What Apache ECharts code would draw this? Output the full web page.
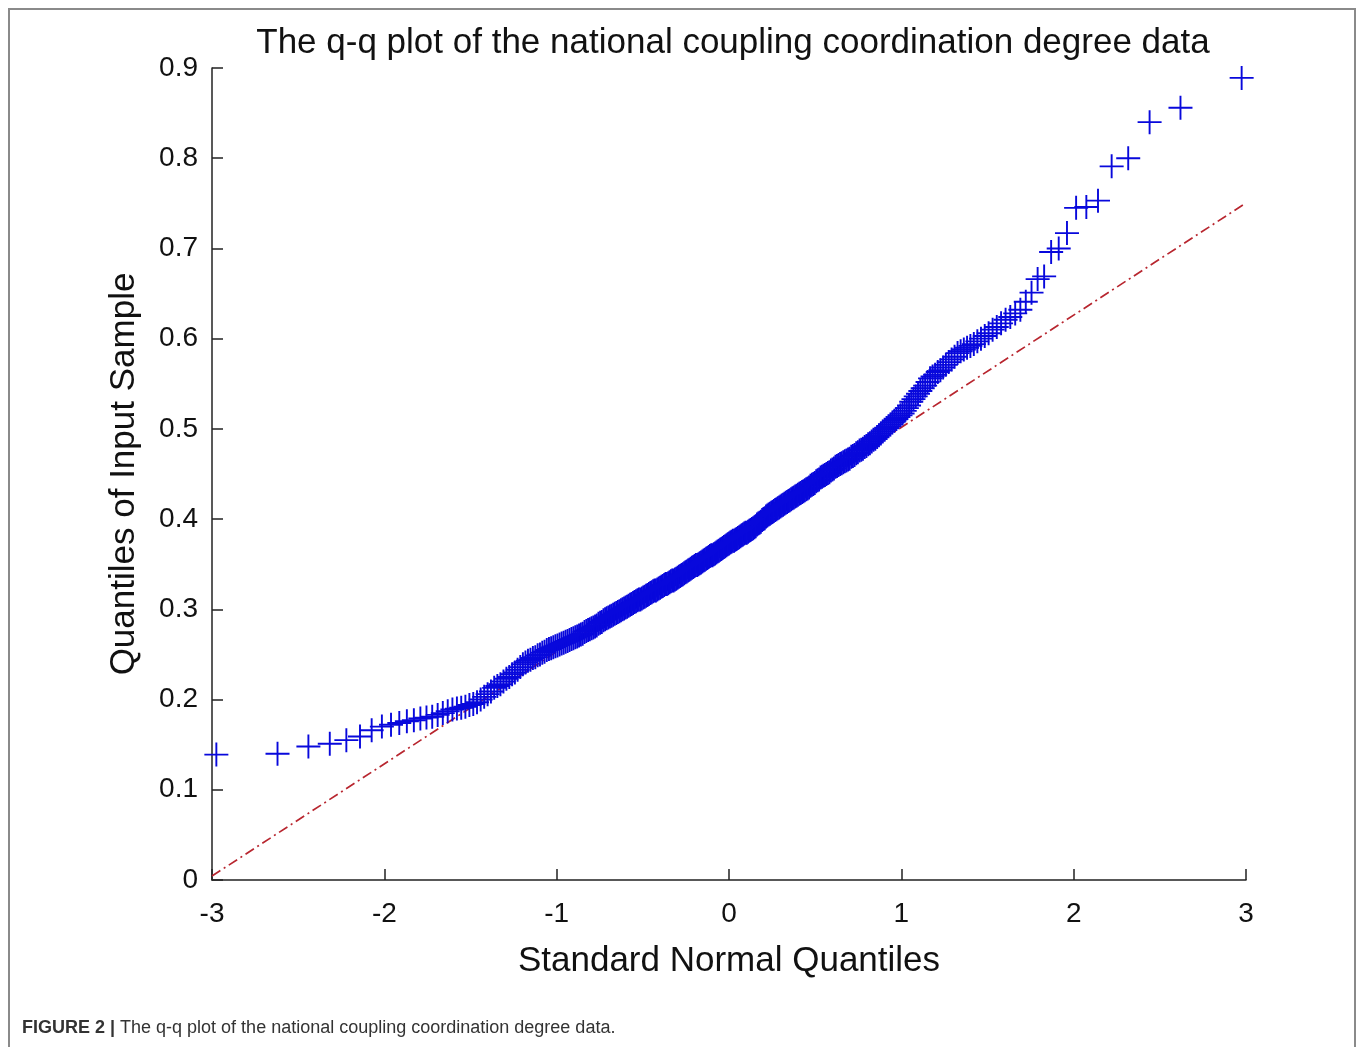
<!DOCTYPE html>
<html>
<head>
<meta charset="utf-8">
<script src="https://cdn.jsdelivr.net/npm/echarts@6/dist/echarts.min.js"></script>
<style>
html,body{margin:0;padding:0;background:#fff;}
#chart{width:1358px;height:1047px;}
</style>
</head>
<body>
<div id="chart"></div>
<script>
// Sorted sample values (quantiles of input sample), n = 341
const sampleValues = [
0.139,0.140,0.148,0.151,0.155,0.159,0.166,0.170,0.172,0.174,0.176,0.177,0.179,0.180,0.181,0.183,0.185,0.187,0.189,0.190,
0.191,0.192,0.194,0.195,0.197,0.200,0.203,0.206,0.209,0.213,
0.215,0.217,0.220,0.223,0.225,0.228,0.230,0.233,0.236,0.239,
0.241,0.243,0.244,0.246,0.247,0.249,0.250,0.252,0.253,0.255,
0.256,0.257,0.258,0.259,0.260,0.261,0.262,0.263,0.264,0.265,
0.266,0.267,0.268,0.269,0.270,0.271,0.272,0.273,0.275,0.276,
0.277,0.278,0.279,0.280,0.281,0.282,0.284,0.285,0.286,0.288,
0.289,0.290,0.291,0.292,0.293,0.294,0.295,0.296,0.297,0.298,
0.299,0.300,0.301,0.302,0.303,0.304,0.305,0.306,0.307,0.308,
0.309,0.310,0.311,0.311,0.312,0.313,0.314,0.315,0.316,0.317,
0.318,0.319,0.320,0.321,0.321,0.322,0.323,0.324,0.325,0.326,
0.327,0.328,0.328,0.329,0.330,0.331,0.332,0.332,0.333,0.334,
0.335,0.336,0.337,0.338,0.339,0.340,0.341,0.342,0.343,0.344,
0.345,0.346,0.347,0.348,0.349,0.349,0.350,0.351,0.352,0.353,
0.354,0.355,0.356,0.357,0.358,0.359,0.360,0.360,0.361,0.362,
0.363,0.364,0.365,0.366,0.367,0.368,0.369,0.370,0.371,0.372,
0.373,0.374,0.375,0.376,0.376,0.377,0.378,0.379,0.380,0.381,
0.382,0.383,0.384,0.385,0.385,0.386,0.387,0.388,0.389,0.390,
0.391,0.392,0.394,0.395,0.396,0.397,0.399,0.400,0.401,0.403,
0.404,0.405,0.406,0.407,0.408,0.409,0.410,0.411,0.412,0.413,
0.414,0.415,0.416,0.417,0.418,0.419,0.420,0.421,0.422,0.423,
0.424,0.425,0.426,0.427,0.428,0.429,0.430,0.431,0.432,0.433,
0.434,0.435,0.437,0.438,0.439,0.440,0.442,0.443,0.444,0.446,
0.447,0.448,0.449,0.450,0.451,0.452,0.454,0.455,0.456,0.458,
0.459,0.460,0.461,0.462,0.463,0.464,0.465,0.466,0.467,0.469,
0.470,0.471,0.473,0.474,0.476,0.477,0.478,0.480,0.481,0.483,
0.484,0.486,0.488,0.489,0.491,0.493,0.495,0.497,0.499,0.501,
0.503,0.505,0.507,0.509,0.511,0.513,0.515,0.517,0.520,0.523,
0.526,0.530,0.533,0.536,0.539,0.542,0.545,0.548,0.552,0.556,
0.558,0.560,0.563,0.565,0.568,0.571,0.574,0.577,0.580,0.584,
0.586,0.588,0.590,0.592,0.594,0.597,0.600,0.603,0.606,0.610,
0.613,0.617,0.621,0.624,0.628,0.632,0.641,0.651,
0.666,0.669,0.696,0.700,0.717,0.745,0.746,0.753,0.791,0.800,0.840,0.856,0.889
];
// Reference line end points (x = standard normal quantile, y = sample quantile)
const refLineX = [-3, 3];
const refLineY = [0.0044, 0.7504];
const xTicks = [-3, -2, -1, 0, 1, 2, 3];
const yTicks = [0, 0.1, 0.2, 0.3, 0.4, 0.5, 0.6, 0.7, 0.8, 0.9];

// Theoretical standard-normal quantile for plotting position (i-0.5)/n (Acklam's inverse normal CDF)
function normInv(p) {
  const a = [-3.969683028665376e+01, 2.209460984245205e+02, -2.759285104469687e+02, 1.383577518672690e+02, -3.066479806614716e+01, 2.506628277459239e+00];
  const b = [-5.447609879822406e+01, 1.615858368580409e+02, -1.556989798598866e+02, 6.680131188771972e+01, -1.328068155288572e+01];
  const c = [-7.784894002430293e-03, -3.223964580411365e-01, -2.400758277161838e+00, -2.549732539343734e+00, 4.374664141464968e+00, 2.938163982698783e+00];
  const d = [7.784695709041462e-03, 3.224671290700398e-01, 2.445134137142996e+00, 3.754408661907416e+00];
  const pl = 0.02425, ph = 1 - pl;
  let q, r;
  if (p < pl) {
    q = Math.sqrt(-2 * Math.log(p));
    return (((((c[0]*q+c[1])*q+c[2])*q+c[3])*q+c[4])*q+c[5]) / ((((d[0]*q+d[1])*q+d[2])*q+d[3])*q+1);
  } else if (p <= ph) {
    q = p - 0.5; r = q*q;
    return (((((a[0]*r+a[1])*r+a[2])*r+a[3])*r+a[4])*r+a[5])*q / (((((b[0]*r+b[1])*r+b[2])*r+b[3])*r+b[4])*r+1);
  } else {
    q = Math.sqrt(-2 * Math.log(1 - p));
    return -(((((c[0]*q+c[1])*q+c[2])*q+c[3])*q+c[4])*q+c[5]) / ((((d[0]*q+d[1])*q+d[2])*q+d[3])*q+1);
  }
}
const n = sampleValues.length;
const qqData = sampleValues.map((v, i) => [normInv((i + 0.5) / n), v]);
const refData = refLineX.map((x, i) => [x, refLineY[i]]);

const FONT = '"Liberation Sans", Arial, Helvetica, sans-serif';
const chart = echarts.init(document.getElementById('chart'), null, {renderer: 'canvas'});
chart.setOption({
  backgroundColor: '#ffffff',
  animation: false,
  title: {
    text: 'The q-q plot of the national coupling coordination degree data',
    left: 728, top: 21, textAlign: 'center',
    textStyle: {fontFamily: FONT, fontSize: 35, fontWeight: 'normal', color: '#111'}
  },
  grid: {left: 212, top: 68, width: 1034, height: 812, containLabel: false},
  xAxis: {
    type: 'value', min: -3, max: 3, interval: 1,
    name: 'Standard Normal Quantiles', nameLocation: 'middle', nameGap: 64,
    nameTextStyle: {fontFamily: FONT, fontSize: 35, color: '#111'},
    axisLine: {show: true, onZero: false, lineStyle: {color: '#222', width: 1.5}},
    axisTick: {show: true, inside: true, length: 11, lineStyle: {color: '#222', width: 1.5}},
    axisLabel: {fontFamily: FONT, fontSize: 28, color: '#111', margin: 20,
      formatter: v => xTicks.indexOf(v) >= 0 ? String(v) : ''},
    splitLine: {show: false}
  },
  yAxis: {
    type: 'value', min: 0, max: 0.9, interval: 0.1,
    name: 'Quantiles of Input Sample', nameLocation: 'middle', nameGap: 70,
    nameTextStyle: {fontFamily: FONT, fontSize: 35, color: '#111'},
    axisLine: {show: true, onZero: false, lineStyle: {color: '#222', width: 1.5}},
    axisTick: {show: true, inside: true, length: 11, lineStyle: {color: '#222', width: 1.5}},
    axisLabel: {fontFamily: FONT, fontSize: 28, color: '#111', margin: 14,
      formatter: v => { const t = yTicks.find(y => Math.abs(y - v) < 1e-9); return t === undefined ? '' : (t === 0 ? '0' : t.toFixed(1)); }},
    splitLine: {show: false}
  },
  graphic: [
    {type: 'rect', shape: {x: 9, y: 9, width: 1346, height: 1060}, style: {fill: 'none', stroke: '#8a8a8a', lineWidth: 2}, silent: true},
    {type: 'text', left: 22, top: 1019, style: {
      text: '{b|FIGURE 2 |} The q-q plot of the national coupling coordination degree data.',
      rich: {b: {fontFamily: FONT, fontWeight: 'bold', fontSize: 18, fill: '#333'}},
      fontFamily: FONT, fontSize: 18, fill: '#333'}}
  ],
  series: [
    {
      type: 'line', data: refData, symbol: 'none', silent: true, z: 1,
      lineStyle: {color: '#b8262f', width: 1.7, type: [10, 4, 2, 4]}
    },
    {
      type: 'scatter', data: qqData, z: 2,
      symbol: 'path://M10,0 L10,20 M0,10 L20,10', symbolSize: 24,
      itemStyle: {color: 'none', borderColor: '#0808dc', borderWidth: 1.9, opacity: 1}
    }
  ]
});
</script>
</body>
</html>
